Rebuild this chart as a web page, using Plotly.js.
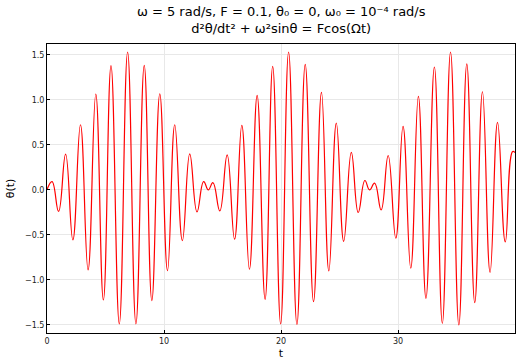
<!DOCTYPE html>
<html>
<head>
<meta charset="utf-8">
<script src="https://cdn.plot.ly/plotly-3.0.1.min.js"></script>
<style>html,body{margin:0;padding:0;background:#fff;}#chart{width:516px;height:360px;}</style>
</head>
<body>
<div id="chart"></div>
<script>
// Extrema of θ(t) (time, angle)
const tValues = [0, 0.43, 0.99, 1.59, 2.21, 2.86, 3.51, 4.17, 4.82, 5.47, 6.18, 6.89, 7.60, 8.31, 8.96, 9.64, 10.30, 10.92, 11.57, 12.20, 12.82,
  13.39, 13.79, 14.18, 14.77, 15.40, 16.03, 16.65, 17.30, 17.96, 18.64, 19.29, 19.97, 20.65, 21.36, 22.07, 22.78, 23.46, 24.09, 24.73, 25.36, 26.01, 26.60,
  27.17, 27.57, 28.00, 28.56, 29.16, 29.81, 30.43, 31.09, 31.74, 32.39, 33.11, 33.79, 34.49, 35.20, 35.88, 36.56, 37.22, 37.87, 38.51, 39.17, 39.80, 40.0];
const thetaValues = [0, 0.092, -0.240, 0.397, -0.557, 0.724, -0.891, 1.066, -1.225, 1.381, -1.490, 1.533, -1.490, 1.384, -1.232, 1.069, -0.898, 0.724, -0.564, 0.400, -0.245,
  0.092, 0.0, 0.081, -0.234, 0.390, -0.549, 0.716, -0.883, 1.050, -1.217, 1.373, -1.490, 1.533, -1.496, 1.395, -1.244, 1.084, -0.902, 0.742, -0.572, 0.416, -0.252,
  0.104, 0.0, 0.074, -0.223, 0.382, -0.538, 0.705, -0.872, 1.039, -1.206, 1.366, -1.485, 1.533, -1.503, 1.400, -1.255, 1.091, -0.917, 0.750, -0.579, 0.427, 0.415];
const xTicks = [0, 10, 20, 30, 40];
const yTicks = [-1.5, -1.0, -0.5, 0.0, 0.5, 1.0, 1.5];

const trace = {
  x: tValues, y: thetaValues, type: 'scatter', mode: 'lines',
  line: {color: '#ff0000', width: 1.2, shape: 'spline', smoothing: 1.3},
  hoverinfo: 'none'
};
const axisCommon = {
  showline: true, mirror: true, linecolor: '#000', linewidth: 1,
  showgrid: true, gridcolor: '#e8e8e8', gridwidth: 1,
  zeroline: false, ticks: 'inside', ticklen: 3, tickcolor: '#000',
  tickfont: {family: 'DejaVu Sans, sans-serif', size: 8, color: '#222'}
};
const layout = {
  width: 516, height: 360,
  margin: {l: 47, r: 1, t: 44, b: 27},
  paper_bgcolor: '#fff', plot_bgcolor: '#fff',
  showlegend: false,
  title: {
    text: 'ω = 5 rad/s, F = 0.1, θ₀ = 0, ω₀ = 10⁻⁴ rad/s<br>d²θ/dt² + ω²sinθ = Fcos(Ωt)',
    font: {family: 'DejaVu Sans, sans-serif', size: 13, color: '#000'},
    x: 0.545, xanchor: 'center', y: 0.955, yanchor: 'middle'
  },
  xaxis: Object.assign({}, axisCommon, {
    range: [0, 40.0001], tickvals: xTicks, ticktext: xTicks.map(String),
    title: {text: 't', font: {family: 'DejaVu Sans, sans-serif', size: 11, color: '#000'}, standoff: 4}
  }),
  yaxis: Object.assign({}, axisCommon, {
    range: [-1.592, 1.622], tickvals: yTicks, ticktext: yTicks.map(v => (v < 0 ? '\u2212' : '') + Math.abs(v).toFixed(1)),
    title: {text: 'θ(t)', font: {family: 'DejaVu Sans, sans-serif', size: 11, color: '#000'}, standoff: 8}
  })
};
Plotly.newPlot('chart', [trace], layout, {staticPlot: true, displayModeBar: false});
</script>
</body>
</html>
